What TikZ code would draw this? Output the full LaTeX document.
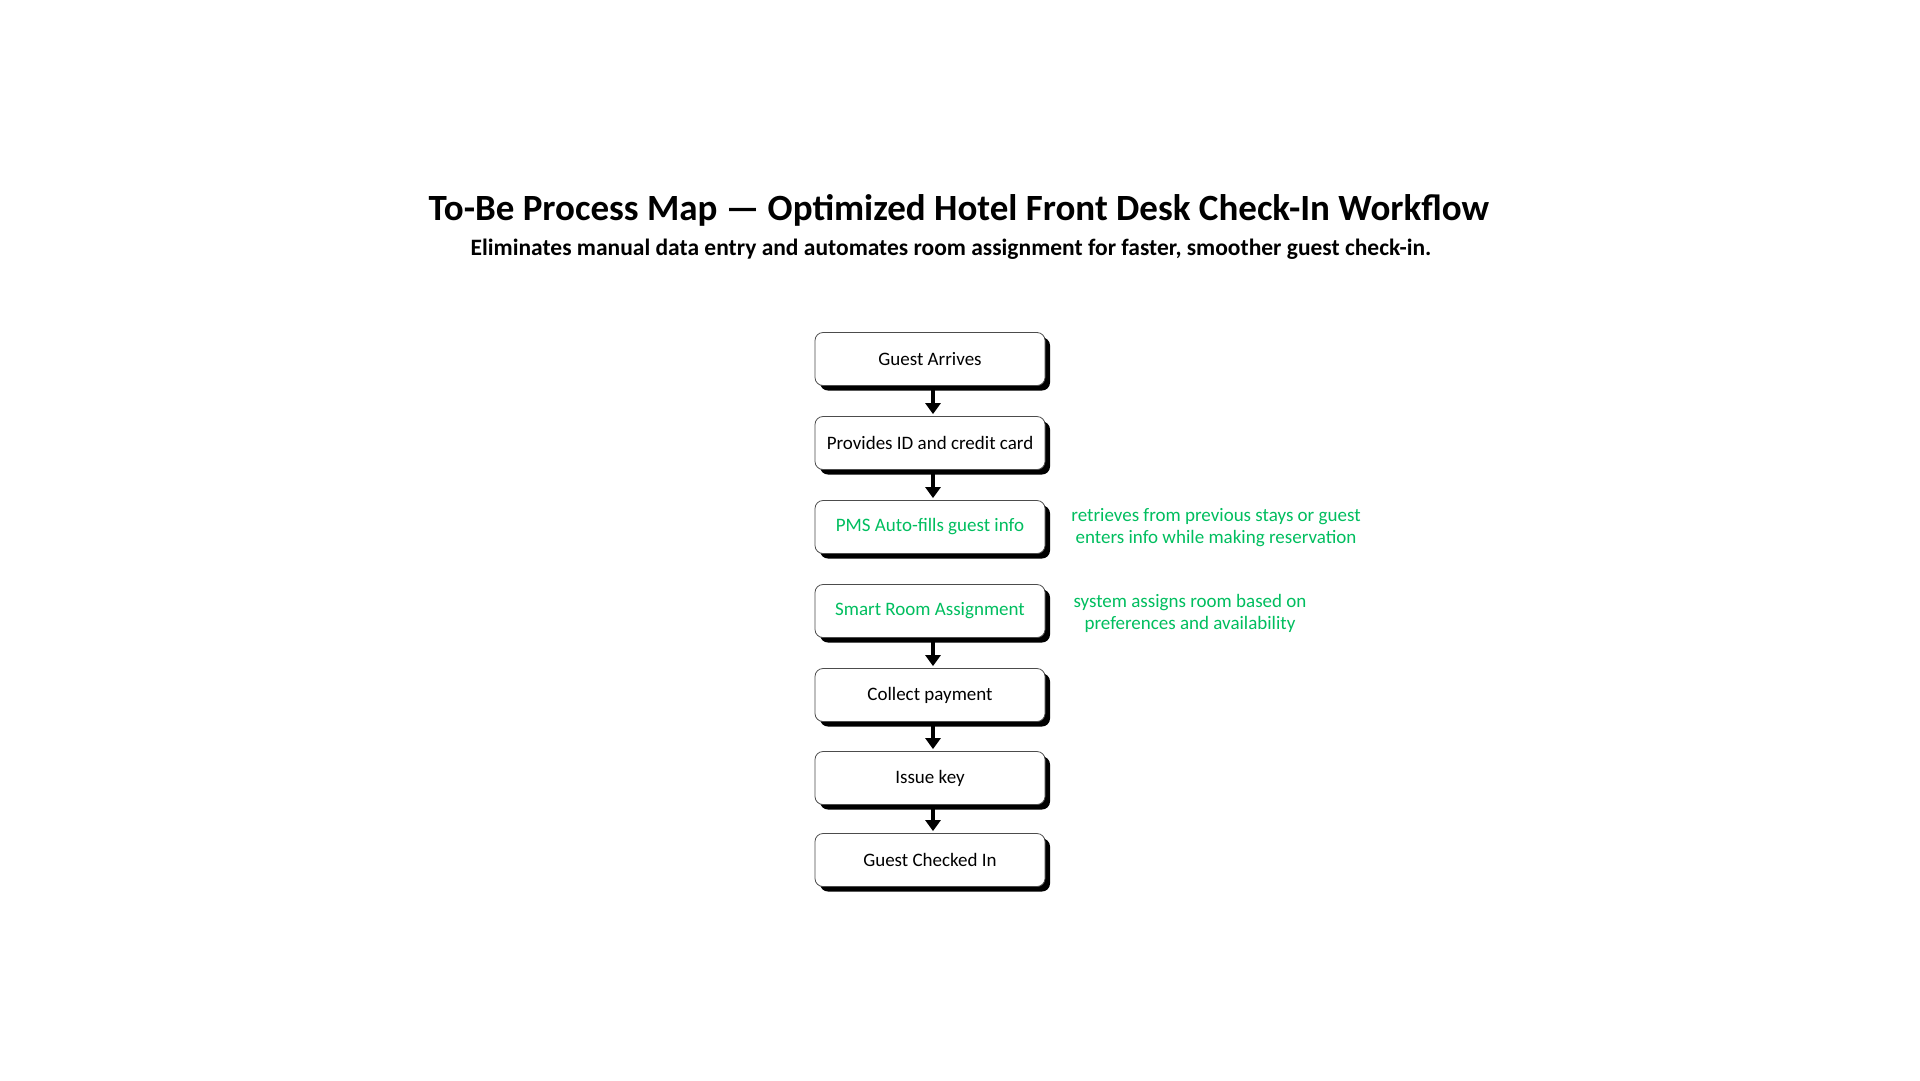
\documentclass[tikz,border=0pt]{standalone}
\usepackage{fontspec}
\setmainfont{Carlito}
\usetikzlibrary{arrows.meta,shadows}
\definecolor{notegreen}{RGB}{0,190,95}
\tikzset{
 stepbox/.style={draw=black!70,line width=0.8pt,fill=white,rounded corners=8pt,
   minimum width=230pt,minimum height=53pt,font=\fontsize{19}{22}\selectfont,
   drop shadow={shadow xshift=5pt,shadow yshift=-5pt,fill=black,opacity=1}},
 greenbox/.style={stepbox,text=notegreen},
 note/.style={text=notegreen,align=center,font=\fontsize{19}{22}\selectfont},
 flow/.style={-{Triangle[width=15pt,length=11pt]},line width=4.5pt,shorten <=3pt,shorten >=2pt}
}
\begin{document}
\begin{tikzpicture}[x=1pt,y=-1pt]
 \useasboundingbox[fill=white] (0,0) rectangle (1920,1080);
 % heading
 \node[font=\fontsize{37}{40}\selectfont\bfseries] (title) at (959,210) {To-Be Process Map — Optimized Hotel Front Desk Check-In Workflow};
 \node[font=\fontsize{23.5}{26}\selectfont\bfseries] (subtitle) at (951,249) {Eliminates manual data entry and automates room assignment for faster, smoother guest check-in.};
 % steps
 \node[stepbox] (arrive) at (930,359) {Guest Arrives};
 \node[stepbox] (provide) at (930,443) {Provides ID and credit card};
 \node[greenbox] (autofill) at (930,527) {PMS Auto-fills guest info};
 \node[greenbox] (assign) at (930,611) {Smart Room Assignment};
 \node[stepbox] (payment) at (930,695) {Collect payment};
 \node[stepbox] (key) at (930,778) {Issue key};
 \node[stepbox] (checkedin) at (930,860) {Guest Checked In};
 % notes
 \node[note] (autofillnote) at (1216,528) {retrieves from previous stays or guest\\enters info while making reservation};
 \node[note] (assignnote) at (1190,613) {system assigns room based on\\preferences and availability};
 % arrows
 \draw[flow] ([xshift=3pt]arrive.south) -- ([xshift=3pt]provide.north);
 \draw[flow] ([xshift=3pt]provide.south) -- ([xshift=3pt]autofill.north);
 \draw[flow] ([xshift=3pt]assign.south) -- ([xshift=3pt]payment.north);
 \draw[flow] ([xshift=3pt]payment.south) -- ([xshift=3pt]key.north);
 \draw[flow] ([xshift=3pt]key.south) -- ([xshift=3pt]checkedin.north);
\end{tikzpicture}
\end{document}
